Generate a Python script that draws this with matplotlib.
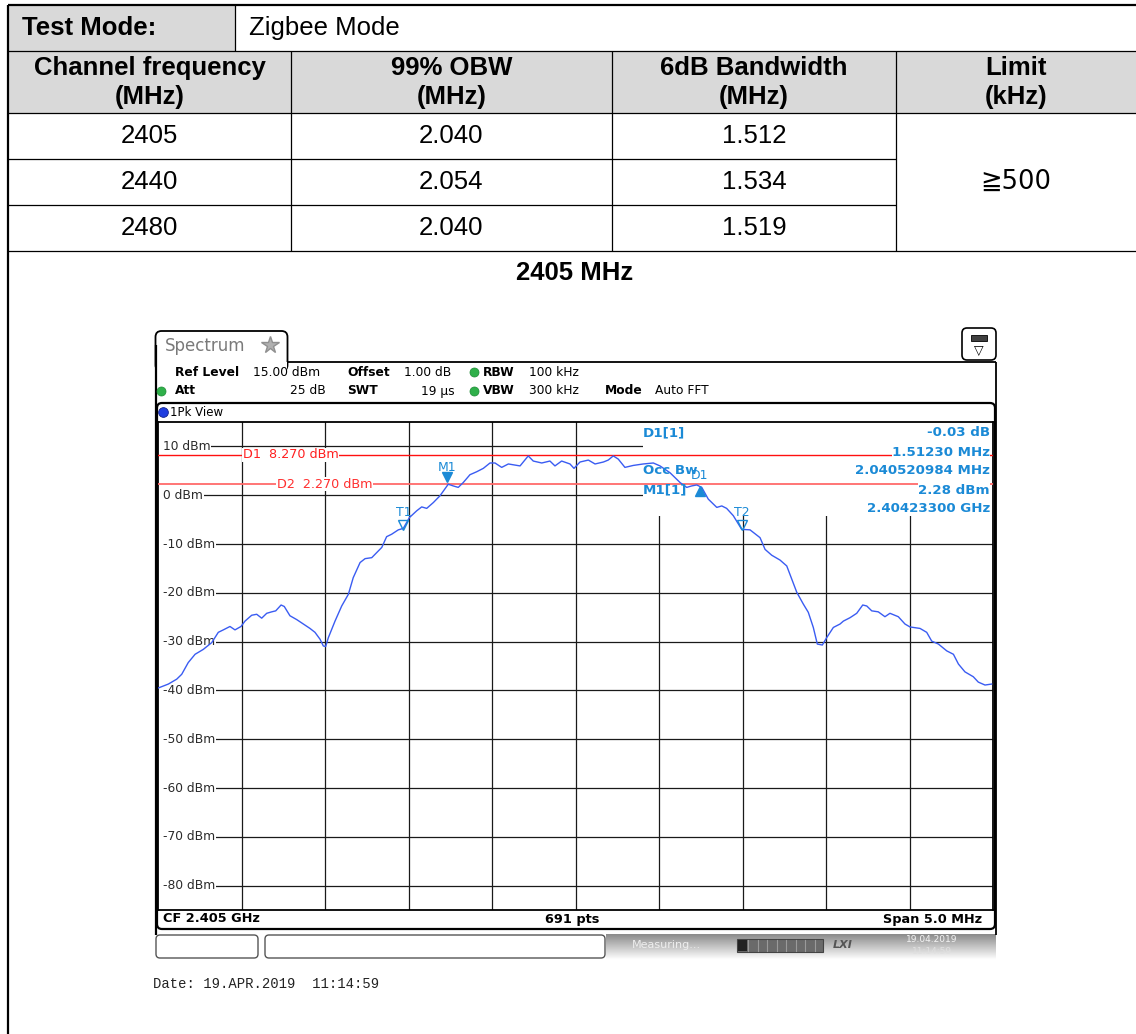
import matplotlib
matplotlib.use('Agg')
import matplotlib.pyplot as plt
from matplotlib.patches import Rectangle, FancyBboxPatch
import numpy as np

# ---------------- data ----------------
test_mode = "Zigbee Mode"
table_headers = [["Channel frequency", "(MHz)"], ["99% OBW", "(MHz)"],
                 ["6dB Bandwidth", "(MHz)"], ["Limit", "(kHz)"]]
channel_mhz = ["2405", "2440", "2480"]
obw_mhz = ["2.040", "2.054", "2.040"]
bw6db_mhz = ["1.512", "1.534", "1.519"]
limit_khz = "\u2267500"
plot_title = "2405 MHz"

freq_offset_mhz = [
    -2.498, -2.438, -2.388, -2.358, -2.319, -2.278, -2.229, -2.178, -2.139, -2.109,
    -2.069, -2.039, -2.003, -1.979, -1.939, -1.909, -1.879, -1.849, -1.819, -1.795,
    -1.763, -1.744, -1.710, -1.669, -1.630, -1.590, -1.560, -1.530, -1.510, -1.496,
    -1.480, -1.440, -1.400, -1.360, -1.331, -1.290, -1.260, -1.220, -1.160, -1.131,
    -1.101, -1.061, -1.031, -0.995, -0.951, -0.921, -0.891, -0.851, -0.811, -0.762,
    -0.732, -0.702, -0.672, -0.632, -0.592, -0.552, -0.512, -0.482, -0.442, -0.402,
    -0.332, -0.283, -0.253, -0.202, -0.153, -0.123, -0.083, -0.033, -0.009, 0.027,
    0.077, 0.117, 0.167, 0.196, 0.226, 0.256, 0.296, 0.346, 0.406, 0.466,
    0.506, 0.566, 0.626, 0.666, 0.696, 0.726, 0.756, 0.795, 0.846, 0.876,
    0.905, 0.945, 0.995, 1.045, 1.105, 1.135, 1.175, 1.225, 1.265, 1.295,
    1.325, 1.364, 1.394, 1.424, 1.448, 1.478, 1.504, 1.544, 1.584, 1.604,
    1.644, 1.684, 1.720, 1.744, 1.774, 1.813, 1.853, 1.883, 1.933, 1.973,
    2.003, 2.063, 2.103, 2.133, 2.173, 2.223, 2.263, 2.293, 2.332, 2.382,
    2.412, 2.452, 2.492]
level_dbm = [
    -39.5, -38.7, -37.7, -36.7, -34.3, -32.6, -31.6, -30.2, -28.1, -27.6,
    -26.9, -27.6, -26.9, -25.8, -24.6, -24.4, -25.2, -24.2, -23.9, -23.7,
    -22.5, -22.8, -24.7, -25.5, -26.4, -27.3, -28.1, -29.5, -30.9, -31.0,
    -29.2, -25.8, -22.7, -20.3, -16.9, -13.8, -13.0, -12.8, -10.7, -8.5,
    -8.0, -7.1, -6.8, -4.6, -3.2, -2.4, -2.7, -1.5, -0.1, 2.25,
    1.9, 1.6, 2.6, 4.2, 4.8, 5.5, 6.6, 6.6, 5.7, 6.4,
    6.0, 8.05, 7.0, 6.6, 7.0, 6.0, 7.0, 6.4, 5.5, 6.8,
    7.2, 6.4, 6.8, 7.2, 8.05, 7.4, 5.7, 6.1, 6.4, 6.6,
    6.0, 4.6, 2.6, 1.6, 1.9, 2.1, 1.6, -0.8, -2.5, -2.2,
    -2.7, -4.2, -7.0, -7.1, -8.7, -11.1, -12.3, -13.3, -14.5, -17.2,
    -19.9, -22.3, -24.0, -27.1, -30.5, -30.7, -29.2, -27.1, -26.4, -25.8,
    -25.1, -24.2, -22.5, -22.7, -23.7, -23.9, -24.9, -24.2, -24.9, -26.4,
    -27.0, -27.3, -28.1, -29.9, -30.5, -31.9, -32.6, -34.6, -36.2, -37.2,
    -38.3, -38.9, -38.7]

y_grid_dbm = [10, 0, -10, -20, -30, -40, -50, -60, -70, -80]
x_grid_mhz = [-2.0, -1.5, -1.0, -0.5, 0.0, 0.5, 1.0, 1.5, 2.0]
d1_level, d2_level = 8.27, 2.27
d1_label, d2_label = "D1  8.270 dBm", "D2  2.270 dBm"
m1_f, m1_l = -0.767, 2.28
t1_f, t2_f = -1.031, 0.995
dm_f = 0.745
marker_rows = [("D1[1]", "-0.03 dB"), ("", "1.51230 MHz"), ("Occ Bw", "2.040520984 MHz"),
               ("M1[1]", "2.28 dBm"), ("", "2.40423300 GHz")]

# ---------------- figure ----------------
W, H = 1136, 1034
fig = plt.figure(figsize=(W / 100, H / 100), dpi=100)
bg = fig.add_axes([0, 0, 1, 1], zorder=0)
bg.axis('off')

SANS = ['Liberation Sans', 'DejaVu Sans']
GRAY = '#d9d9d9'

# table fills
bg.add_patch(Rectangle((8, 5), 227, 46, fc=GRAY, ec='none'))
bg.add_patch(Rectangle((8, 51), W - 8, 62, fc=GRAY, ec='none'))
# table lines
def hl(y, x0, x1, lw=0.9):
    bg.plot([x0, x1], [y, y], color='black', lw=lw, solid_capstyle='butt')
def vl(x, y0, y1, lw=0.9):
    bg.plot([x, x], [y0, y1], color='black', lw=lw, solid_capstyle='butt')
hl(5, 8, W, 1.6)
vl(8, 5, H, 1.6)
hl(51, 8, W); hl(113, 8, W); hl(159, 8, 896); hl(205, 8, 896); hl(251, 8, W)
vl(235, 5, 51)
for x in (291, 612, 896):
    vl(x, 51, 251)

bg.text(22, 28, "Test Mode:", fontsize=18.5, fontweight='bold', family=SANS, va='center')
bg.text(249, 28, test_mode, fontsize=18.5, family=SANS, va='center')
col_centers = [149.5, 451.5, 754, 1016]
for cx, (l1, l2) in zip(col_centers, table_headers):
    bg.text(cx, 68, l1, fontsize=18.5, fontweight='bold', family=SANS, ha='center', va='center')
    bg.text(cx, 97, l2, fontsize=18.5, fontweight='bold', family=SANS, ha='center', va='center')
row_y = [136, 182, 228]
for ry, a, b, c in zip(row_y, channel_mhz, obw_mhz, bw6db_mhz):
    bg.text(col_centers[0], ry, a, fontsize=18.5, family=SANS, ha='center', va='center')
    bg.text(col_centers[1], ry, b, fontsize=18.5, family=SANS, ha='center', va='center')
    bg.text(col_centers[2], ry, c, fontsize=18.5, family=SANS, ha='center', va='center')
bg.text(col_centers[3], 182, limit_khz, fontsize=18.5, family=['DejaVu Sans', 'Liberation Sans'],
        ha='center', va='center')
bg.text(575, 273, plot_title, fontsize=18.5, fontweight='bold', family=SANS, ha='center', va='center')

# ---- instrument frame ----
bg.add_patch(FancyBboxPatch((155.5, 331), 132, 40, boxstyle='round,pad=0,rounding_size=6',
                            fc='white', ec='black', lw=1.3))
bg.add_patch(Rectangle((156.5, 362), 130.5, 12, fc='white', ec='none'))
hl(362, 287, 996, 1.3)
vl(155.5, 345, 935, 1.6)
vl(996, 362, 935, 1.3)
bg.text(165, 346, "Spectrum", fontsize=12, color='#7a7a7a', family='DejaVu Sans', va='center')
bg.plot([270], [345], marker='*', ms=13, color='#b0b0b0', mec='#909090')
bg.add_patch(FancyBboxPatch((962, 328), 34, 32, boxstyle='round,pad=0,rounding_size=5',
                            fc='white', ec='black', lw=1.2))
bg.add_patch(Rectangle((971, 335), 16, 6, fc='#404040', ec='black', lw=0.6))
bg.text(979, 351, "\u25bd", fontsize=9, ha='center', va='center', family='DejaVu Sans')

HF = 'DejaVu Sans'
hs = 8.8
bg.text(175, 372, "Ref Level", fontsize=hs, fontweight='bold', family=HF, va='center')
bg.text(253, 372, "15.00 dBm", fontsize=hs, family=HF, va='center')
bg.text(347, 372, "Offset", fontsize=hs, fontweight='bold', family=HF, va='center')
bg.text(404, 372, "1.00 dB", fontsize=hs, family=HF, va='center')
bg.text(483, 372, "RBW", fontsize=hs, fontweight='bold', family=HF, va='center')
bg.text(529, 372, "100 kHz", fontsize=hs, family=HF, va='center')
bg.text(175, 391, "Att", fontsize=hs, fontweight='bold', family=HF, va='center')
bg.text(326, 391, "25 dB", fontsize=hs, family=HF, va='center', ha='right')
bg.text(347, 391, "SWT", fontsize=hs, fontweight='bold', family=HF, va='center')
bg.text(455, 391, "19 \u00b5s", fontsize=hs, family=HF, va='center', ha='right')
bg.text(483, 391, "VBW", fontsize=hs, fontweight='bold', family=HF, va='center')
bg.text(529, 391, "300 kHz", fontsize=hs, family=HF, va='center')
bg.text(605, 391, "Mode", fontsize=hs, fontweight='bold', family=HF, va='center')
bg.text(655, 391, "Auto FFT", fontsize=hs, family=HF, va='center')
for gx, gy in [(474, 372), (161, 391), (474, 391)]:
    bg.plot([gx], [gy], 'o', ms=6.5, color='#2fb04a', mec='#1c8a34', mew=0.5)

bg.add_patch(FancyBboxPatch((157, 403), 838, 526, boxstyle='round,pad=0,rounding_size=5',
                            fc='white', ec='black', lw=1.6))
bg.plot([163], [412], 'o', ms=7, color='#1f3ee0', mec='#10208a', mew=0.6)
bg.text(170, 412, "1Pk View", fontsize=8.5, family=HF, va='center')

bg.text(163, 919, "CF 2.405 GHz", fontsize=9.3, fontweight='bold', family=HF, va='center')
bg.text(572, 919, "691 pts", fontsize=9.3, fontweight='bold', family=HF, va='center', ha='center')
bg.text(982, 919, "Span 5.0 MHz", fontsize=9.3, fontweight='bold', family=HF, va='center', ha='right')

bg.add_patch(FancyBboxPatch((156, 935), 102, 23, boxstyle='round,pad=0,rounding_size=4',
                            fc='white', ec='#555555', lw=1.0))
bg.add_patch(FancyBboxPatch((265, 935), 340, 23, boxstyle='round,pad=0,rounding_size=4',
                            fc='white', ec='#555555', lw=1.0))
grad = np.linspace(0.55, 1.0, 30)[:, None] * np.ones((1, 60))
bg.imshow(grad, extent=(606, 996, 960, 934), aspect='auto', cmap='gray', vmin=0, vmax=1, zorder=0.5)
bg.text(632, 945, "Measuring...", fontsize=8, color='#eeeeee', family=HF, va='center')
bg.add_patch(Rectangle((737, 939), 86, 13, fc='#6a6a6a', ec='#444444', lw=0.8, zorder=1))
for sx in np.linspace(748, 815, 8):
    bg.plot([sx, sx], [940, 951], color='#9a9a9a', lw=0.8, zorder=1.1)
bg.add_patch(Rectangle((738, 940), 9, 11, fc='#222222', ec='none', zorder=1.2))
bg.text(843, 945, "LXI", fontsize=8, color='#555555', fontstyle='italic', fontweight='bold',
        family=HF, va='center', ha='center')
bg.text(932, 940, "19.04.2019", fontsize=6.5, color='#f4f4f4', family=HF, va='center', ha='center')
bg.text(932, 951, "11:14:59", fontsize=6.5, color='#e0e0e0', family=HF, va='center', ha='center')

bg.text(153, 984, "Date: 19.APR.2019  11:14:59", fontsize=10, family='Liberation Mono',
        va='center', color='#222222')

bg.set_xlim(0, W)
bg.set_ylim(H, 0)

# ---------------- spectrum axes ----------------
sp = fig.add_axes([158 / W, 1 - 910 / H, 835 / W, 488 / H], zorder=1)
sp.set_xlim(-2.5, 2.5)
sp.set_ylim(-85, 15)
sp.set_xticks([]); sp.set_yticks([])
for s in sp.spines.values():
    s.set_linewidth(1.3)
    s.set_color('black')

for v in y_grid_dbm:
    sp.plot([-2.5, 2.5], [v, v], color='#1a1a1a', lw=0.9, zorder=1)
    sp.add_patch(Rectangle((-2.5, v - 1.2), 0.04, 2.4, fc='white', ec='none', zorder=2.4))
    sp.text(-2.471, v, f"{v} dBm", fontsize=8.8, color='#2a2a2a', family=HF, va='center', ha='left',
            zorder=2.5, bbox=dict(fc='white', ec='none', pad=0.6))
for f in x_grid_mhz:
    sp.plot([f, f], [-85, 15], color='#1a1a1a', lw=0.9, zorder=1)

sp.add_patch(Rectangle((0.404, -4.3), 2.2, 20, fc='white', ec='none', zorder=2))

sp.plot([-2.5, 2.5], [d1_level, d1_level], color='#ff1010', lw=1.0, zorder=3)
sp.plot([-2.5, 2.5], [d2_level, d2_level], color='#ff6a6a', lw=1.3, zorder=3)
sp.text(-1.991, d1_level, d1_label, fontsize=9.2, color='#ff2020', family=HF, va='center',
        zorder=3.5, bbox=dict(fc='white', ec='none', pad=0.5))
sp.text(-1.787, d2_level, d2_label, fontsize=9.2, color='#ff3030', family=HF, va='center',
        zorder=3.5, bbox=dict(fc='white', ec='none', pad=0.5))

assert len(freq_offset_mhz) == len(level_dbm)
sp.plot(freq_offset_mhz, level_dbm, color='#3a5cf2', lw=1.0, zorder=4)

MB = '#1b8ad6'
sp.plot([m1_f], [m1_l + 1.4], marker='v', ms=7, color=MB, zorder=5)
sp.text(m1_f, 5.7, "M1", fontsize=9, color=MB, family=HF, ha='center', va='center', zorder=5)
sp.plot([t1_f], [-6.2], marker='v', ms=7, mfc='none', mec=MB, mew=1, zorder=5)
sp.text(t1_f, -3.5, "T1", fontsize=9, color=MB, family=HF, ha='center', va='center', zorder=5)
sp.plot([t2_f], [-6.2], marker='v', ms=7, mfc='none', mec=MB, mew=1, zorder=5)
sp.text(t2_f, -3.5, "T2", fontsize=9, color=MB, family=HF, ha='center', va='center', zorder=5)
sp.plot([dm_f], [0.9], marker='^', ms=7, color=MB, zorder=5)
sp.text(dm_f, 4.0, "D1", fontsize=9, color=MB, family=HF, ha='center', va='center', zorder=5)

# ---------------- overlay for marker table ----------------
ov = fig.add_axes([0, 0, 1, 1], zorder=2)
ov.set_xlim(0, W); ov.set_ylim(H, 0)
ov.axis('off')
ov.patch.set_alpha(0)
for i, (lab, val) in enumerate(marker_rows):
    y = 433 + i * 19
    if lab:
        ov.text(643, y, lab, fontsize=9.6, fontweight='bold', color=MB, family=HF, va='center')
    ov.text(990, y, val, fontsize=9.6, fontweight='bold', color=MB, family=HF, va='center', ha='right',
            bbox=dict(fc='white', ec='none', pad=0.3) if i in (1, 3) else None)

fig.savefig('out.png', dpi=100)
